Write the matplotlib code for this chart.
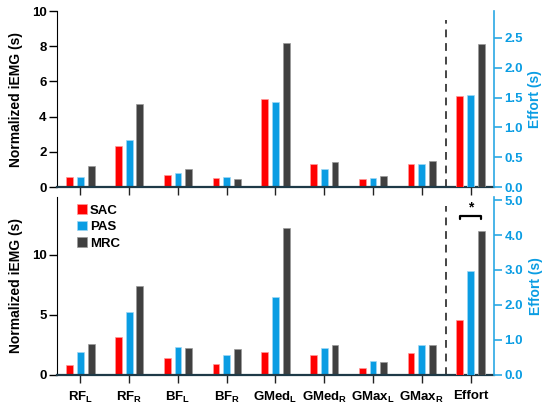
import numpy as np
import matplotlib
matplotlib.use('Agg')
import matplotlib.pyplot as plt

plt.rcParams['font.family'] = ['Liberation Sans', 'DejaVu Sans']
plt.rcParams['font.weight'] = 'bold'
plt.rcParams['mathtext.fontset'] = 'custom'
plt.rcParams['mathtext.rm'] = 'Liberation Sans:bold'
plt.rcParams['mathtext.bf'] = 'Liberation Sans:bold'
plt.rcParams['mathtext.default'] = 'bf'

# category labels
muscles = [r'RF$_\mathbf{L}$', r'RF$_\mathbf{R}$', r'BF$_\mathbf{L}$', r'BF$_\mathbf{R}$',
           r'GMed$_\mathbf{L}$', r'GMed$_\mathbf{R}$', r'GMax$_\mathbf{L}$', r'GMax$_\mathbf{R}$']
effort_label = 'Effort'
conditions = ['SAC', 'PAS', 'MRC']

# top panel (normalized iEMG, left axis) + effort (right axis)
top_sac = [0.55, 2.33, 0.66, 0.51, 5.00, 1.29, 0.47, 1.32]
top_pas = [0.55, 2.69, 0.78, 0.55, 4.85, 1.00, 0.53, 1.32]
top_mrc = [1.18, 4.72, 1.00, 0.44, 8.16, 1.42, 0.64, 1.50]
top_effort = [1.52, 1.55, 2.40]

# bottom panel
bot_sac = [0.84, 3.20, 1.43, 0.93, 1.89, 1.67, 0.58, 1.80]
bot_pas = [1.88, 5.22, 2.36, 1.63, 6.53, 2.28, 1.14, 2.50]
bot_mrc = [2.61, 7.44, 2.22, 2.13, 12.28, 2.50, 1.06, 2.50]
bot_effort = [1.57, 2.97, 4.11]

colors = ['#ff0000', '#0a9de3', '#404040']
edge_colors = ['#ff9a9a', '#9fd8f5', '#9a9a9a']
blue_axis = '#2aa8e4'
blue_text = '#0a9de3'
base_color = '#1e3a48'

fig = plt.figure(figsize=(5.47, 4.11), dpi=100)
ax_top = fig.add_axes([0.1042, 0.545, 0.7989, 0.4282])
ax_bot = fig.add_axes([0.1042, 0.0876, 0.7989, 0.4331])

x = np.arange(len(muscles))
x_eff = len(muscles)
offsets = [-0.22, 0.0, 0.22]
width = 0.14


def draw_panel(ax, series, effort, ylim, rlim, yticks, rticks, rfmt, show_labels):
    for i, vals in enumerate(series):
        ax.bar(x + offsets[i], vals, width, color=colors[i], edgecolor=edge_colors[i],
               linewidth=0.5, label=conditions[i], zorder=3)
    ax.set_xlim(-0.48, 8.48)
    ax.set_ylim(*ylim)
    ax.set_yticks(yticks)
    ax.set_ylabel('Normalized iEMG (s)', fontsize=10, fontweight='bold', labelpad=6)
    ax.spines['top'].set_visible(False)
    ax.spines['right'].set_visible(False)
    ax.spines['bottom'].set_color(base_color)
    ax.spines['bottom'].set_linewidth(1.6)
    ax.spines['bottom'].set_zorder(5)
    ax.tick_params(axis='y', length=5.5, width=1.0, labelsize=9.5, pad=2)
    ax.tick_params(axis='x', length=5.5, width=1.0, labelsize=9.5, pad=5, color='#222222')
    ax.set_xticks(list(x) + [x_eff])
    if show_labels:
        ax.set_xticklabels(muscles + [effort_label])
    else:
        ax.set_xticklabels([])
    ax.axvline(7.5, ymax=0.95, color='#444444', linestyle=(0, (4, 3)), linewidth=1.4)

    rax = ax.twinx()
    for i in range(3):
        rax.bar(x_eff + offsets[i], effort[i], width, color=colors[i],
                edgecolor=edge_colors[i], linewidth=0.5, zorder=3)
    rax.set_xlim(-0.48, 8.48)
    rax.set_ylim(*rlim)
    rax.set_yticks(rticks)
    rax.set_yticklabels([rfmt.format(v) for v in rticks])
    rax.spines['top'].set_visible(False)
    rax.spines['left'].set_visible(False)
    rax.spines['bottom'].set_visible(False)
    rax.spines['right'].set_color(blue_axis)
    rax.spines['right'].set_linewidth(1.2)
    rax.tick_params(axis='y', length=5.5, width=1.2, color=blue_axis, labelcolor=blue_text,
                    labelsize=9.5, pad=2)
    rax.set_ylabel('Effort (s)', fontsize=10, fontweight='bold', color=blue_text, labelpad=4)
    return rax


draw_panel(ax_top, [top_sac, top_pas, top_mrc], top_effort, (0, 10), (0, 2.95),
           [0, 2, 4, 6, 8, 10], [0.0, 0.5, 1.0, 1.5, 2.0, 2.5], '{:.1f}', False)
rax_bot = draw_panel(ax_bot, [bot_sac, bot_pas, bot_mrc], bot_effort, (0, 14.83), (0, 5.086),
                     [0, 5, 10], [0.0, 1.0, 2.0, 3.0, 4.0, 5.0], '{:.1f}', True)

# significance bracket between SAC and MRC effort
bx0 = x_eff + offsets[0]
bx1 = x_eff + offsets[2]
rax_bot.plot([bx0, bx0, bx1, bx1], [4.45, 4.53, 4.53, 4.45], color='black', linewidth=1.6,
             solid_capstyle='round', zorder=4)
rax_bot.text(x_eff, 4.80, '*', ha='center', va='center', fontsize=10, fontweight='bold')

ax_bot.legend(loc='upper left', bbox_to_anchor=(0.046, 0.96), frameon=False,
              fontsize=9.5, handlelength=0.75, handleheight=0.75, handletextpad=0.2,
              labelspacing=0.32, borderpad=0, borderaxespad=0)

fig.savefig('out.png', dpi=100)
